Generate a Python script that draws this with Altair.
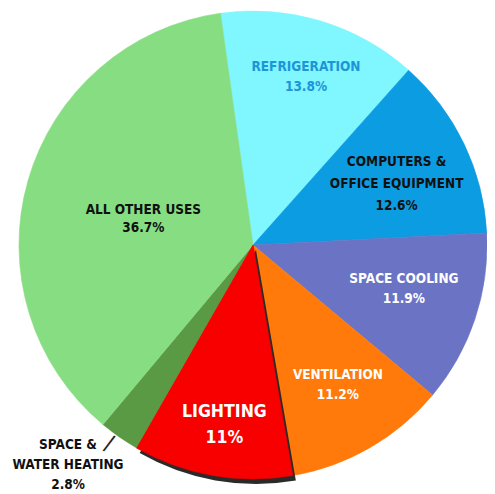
import altair as alt
import pandas as pd
import math

# ---- data ----
names = ["REFRIGERATION", "COMPUTERS &\nOFFICE EQUIPMENT", "SPACE COOLING",
         "VENTILATION", "LIGHTING", "SPACE &\nWATER HEATING", "ALL OTHER USES"]
keys = ["refr", "comp", "cool", "vent", "light", "heat", "other"]
pcts = [13.8, 12.6, 11.9, 11.2, 11.0, 2.8, 36.7]
pct_labels = ["13.8%", "12.6%", "11.9%", "11.2%", "11%", "2.8%", "36.7%"]
colors = ["#80F6FF", "#0B9CE2", "#6B73C4", "#FF7A0A", "#F80000", "#5B9A45", "#87DE82"]

df = pd.DataFrame({
    "key": keys,
    "name": names,
    "pct": pcts,
    "order": list(range(len(keys))),
    "label": [n + "\n" + p for n, p in zip(names, pct_labels)],
})

# ---- layout / style ----
CX, CY, R = 245, 237, 234
start = 2 * math.pi - math.radians(8)
theta_scale = alt.Scale(domain=[0, 100], range=[start, start + 2 * math.pi])
color_scale = alt.Scale(domain=keys, range=colors)
FONT = "DejaVu Sans Condensed, Liberation Sans Narrow, sans-serif"

base = alt.Chart(df).transform_window(
    cum="sum(pct)", sort=[{"field": "order"}], frame=[None, 0]
).transform_calculate(
    start="datum.cum - datum.pct",
    mid="datum.cum - datum.pct / 2",
)

pie = base.mark_arc(radius=R, strokeWidth=0.6).encode(
    theta=alt.Theta("start:Q", scale=theta_scale),
    theta2="cum:Q",
    color=alt.Color("key:N", scale=color_scale, legend=None),
    stroke=alt.Color("key:N", scale=color_scale, legend=None),
    x=alt.value(CX), y=alt.value(CY),
)

shadow = base.transform_filter("datum.key == 'light'").mark_arc(
    radius=R, color="#2a2a2a"
).encode(
    theta=alt.Theta("start:Q", scale=theta_scale),
    theta2="cum:Q",
    x=alt.value(CX + 3), y=alt.value(CY + 5),
)

light = base.transform_filter("datum.key == 'light'").mark_arc(
    radius=R, strokeWidth=0.6
).encode(
    theta=alt.Theta("start:Q", scale=theta_scale),
    theta2="cum:Q",
    color=alt.Color("key:N", scale=color_scale, legend=None),
    stroke=alt.Color("key:N", scale=color_scale, legend=None),
    x=alt.value(CX), y=alt.value(CY),
)

label_style = {
    "refr": dict(radius=176, dx=2, dy=-10, color="#1D95D6", size=13.5, lh=20),
    "comp": dict(radius=156, dx=3, dy=-15, color="#111111", size=13.5, lh=22),
    "cool": dict(radius=157, dx=2, dy=-16, color="#FFFFFF", size=13.5, lh=20),
    "vent": dict(radius=164, dx=3, dy=-12, color="#FFFFFF", size=13.5, lh=20),
    "light": dict(radius=182, dx=3, dy=-12, color="#FFFFFF", size=17.5, lh=26),
    "heat": dict(radius=287, dx=-21, dy=-36, color="#111111", size=13.5, lh=20),
    "other": dict(radius=113, dx=-1, dy=-4, color="#111111", size=13.5, lh=18),
}

texts = []
for k, s in label_style.items():
    texts.append(
        base.transform_filter(f"datum.key == '{k}'").mark_text(
            radius=s["radius"], dx=s["dx"], dy=s["dy"], color=s["color"],
            fontSize=s["size"], font=FONT, fontWeight="bold",
            lineBreak="\n", lineHeight=s["lh"], align="center", baseline="middle",
        ).encode(
            theta=alt.Theta("mid:Q", scale=theta_scale),
            text="label:N",
            x=alt.value(CX), y=alt.value(CY),
        )
    )

slash = base.transform_filter("datum.key == 'heat'").mark_text(
    radius=247, dx=-4, dy=-3, color="#222222", fontSize=22, font="DejaVu Sans",
    angle=20, align="center", baseline="middle",
).encode(
    theta=alt.Theta("mid:Q", scale=theta_scale),
    text=alt.value("/"),
    x=alt.value(CX), y=alt.value(CY),
)

chart = alt.layer(pie, shadow, light, *texts, slash).properties(
    width=479, height=484, padding=0, autosize=alt.AutoSizeParams(type="none"),
).configure_view(stroke=None)

chart.save("out.html", embed_options={"renderer": "svg", "actions": False})
